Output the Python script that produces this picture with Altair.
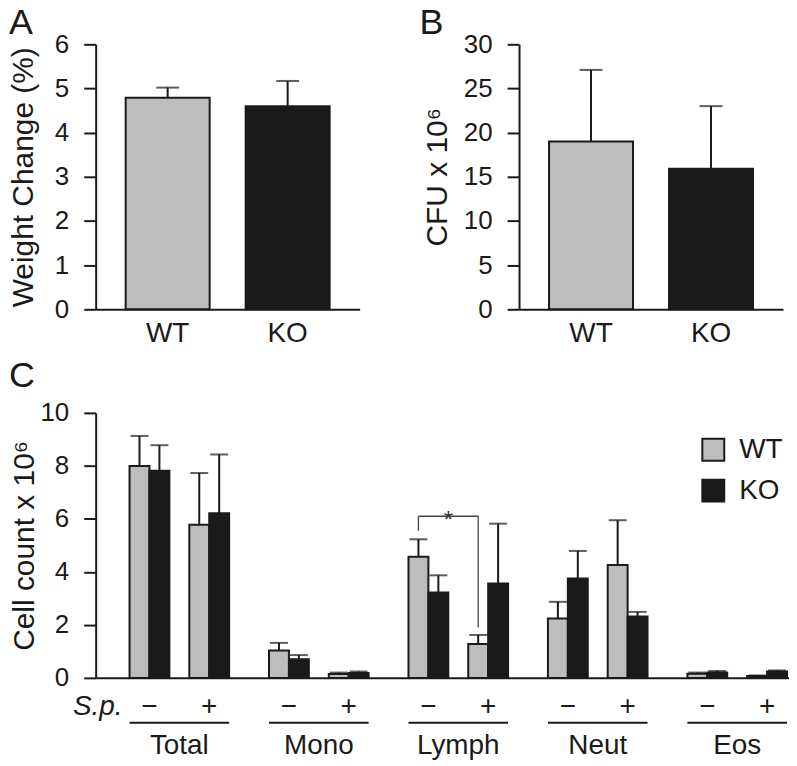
import altair as alt
import pandas as pd

INK = "#1a1a1a"
FONT = "Liberation Sans"

# ---- data ----
genotypes = ["WT", "KO"]
genotype_colors = ["#bdbdbd", "#1a1a1a"]

weight_mean = [4.79, 4.60]
weight_err = [0.23, 0.57]

cfu_mean = [19.0, 15.9]
cfu_err = [8.1, 7.1]

cell_groups = ["Total", "Mono", "Lymph", "Neut", "Eos"]
sp_levels = ["\u2212", "+"]
# order: Total-, Total+, Mono-, Mono+, Lymph-, Lymph+, Neut-, Neut+, Eos-, Eos+
wt_mean = [8.00, 5.78, 1.03, 0.15, 4.57, 1.28, 2.24, 4.26, 0.16, 0.07]
wt_err = [1.13, 1.95, 0.29, 0.05, 0.66, 0.34, 0.63, 1.69, 0.04, 0.02]
ko_mean = [7.82, 6.21, 0.70, 0.18, 3.22, 3.56, 3.75, 2.32, 0.20, 0.24]
ko_err = [0.96, 2.22, 0.16, 0.06, 0.65, 2.26, 1.04, 0.17, 0.06, 0.04]

# significance bracket (Lymph, WT - vs WT +): top, left foot, right foot
sig_top = 6.1
sig_left_foot = 5.55
sig_right_foot = 1.9
sig_text = "*"

PANEL_W = 265
PANEL_H = 266
C_W = 696


def axis_y(title, values, title_pad):
    return alt.Axis(
        title=title, values=values, grid=False, tickSize=12, tickWidth=2,
        tickColor=INK, domainWidth=2, domainColor=INK, labelFontSize=26,
        labelPadding=15, labelColor=INK, titleFontSize=30,
        titleFontWeight="normal", titleColor=INK, titlePadding=title_pad,
        labelFont=FONT, titleFont=FONT,
    )


def letter(text, dx, dy):
    return alt.Chart(pd.DataFrame({"t": [text]})).mark_text(
        fontSize=36, font=FONT, align="left", baseline="alphabetic", color=INK
    ).encode(text="t:N", x=alt.value(dx), y=alt.value(dy))


def simple_panel(means, errs, ytitle, ymax, ystep, title_pad, letter_text, letter_dx):
    df = pd.DataFrame({
        "g": genotypes,
        "m": means,
        "top": [m + e for m, e in zip(means, errs)],
    })
    base = alt.Chart(df)
    xenc = alt.X(
        "g:N", sort=genotypes,
        scale=alt.Scale(paddingInner=0.3, paddingOuter=0.25),
        axis=alt.Axis(title=None, labelAngle=0, ticks=False, tickSize=0,
                      labelFontSize=28, labelPadding=10, domainWidth=2,
                      domainColor=INK, labelColor=INK, labelFont=FONT),
    )
    yscale = alt.Scale(domain=[0, ymax], nice=False, zero=True)
    bars = base.mark_bar(stroke=INK, strokeWidth=2).encode(
        x=xenc,
        y=alt.Y("m:Q", scale=yscale,
                axis=axis_y(ytitle, list(range(0, ymax + 1, ystep)), title_pad)),
        fill=alt.Fill("g:N", scale=alt.Scale(domain=genotypes, range=genotype_colors),
                      legend=None),
    )
    err = base.mark_rule(strokeWidth=2, color=INK).encode(
        x=alt.X("g:N", sort=genotypes), y="m:Q", y2="top:Q")
    cap = base.mark_tick(orient="horizontal", size=23, thickness=2, color=INK).encode(
        x=alt.X("g:N", sort=genotypes), y="top:Q")
    return alt.layer(bars, err, cap, letter(letter_text, letter_dx, -10)).properties(
        width=PANEL_W, height=PANEL_H)


panel_a = simple_panel(weight_mean, weight_err, "Weight Change (%)", 6, 1, 16, "A", -87)
panel_b = simple_panel(cfu_mean, cfu_err, "CFU x 10\u2076", 30, 5, 11, "B", -100)

# ---- panel C ----
rows = []
for gi, g in enumerate(cell_groups):
    for si, s in enumerate(sp_levels):
        k = gi * 2 + si
        start = gi * 7 + si * 3
        for j, (geno, mean, err) in enumerate(
                [("WT", wt_mean[k], wt_err[k]), ("KO", ko_mean[k], ko_err[k])]):
            rows.append({
                "geno": geno, "group": g, "sp": s,
                "x0": start + j, "x1": start + j + 1, "xc": start + j + 0.5,
                "m": mean, "top": mean + err,
            })
cdf = pd.DataFrame(rows)

xs = alt.Scale(domain=[-1.7, 33.1], nice=False, zero=False)
xaxis = alt.Axis(title=None, labels=False, ticks=False, grid=False,
                 domainWidth=2, domainColor=INK)
ys = alt.Scale(domain=[0, 10], nice=False)

cbase = alt.Chart(cdf)
cbars = cbase.mark_rect(stroke=INK, strokeWidth=2).encode(
    x=alt.X("x0:Q", scale=xs, axis=xaxis),
    x2="x1:Q",
    y=alt.Y("m:Q", scale=ys, axis=axis_y("Cell count x 10\u2076", [0, 2, 4, 6, 8, 10], 0)),
    y2=alt.datum(0),
    fill=alt.Fill("geno:N", scale=alt.Scale(domain=genotypes, range=genotype_colors),
                  legend=alt.Legend(title=None, orient="none", legendX=606, legendY=23,
                                    symbolType="square", symbolSize=484,
                                    symbolStrokeColor=INK, symbolStrokeWidth=2,
                                    labelFontSize=28, labelOffset=12, rowPadding=11,
                                    labelFont=FONT, labelColor=INK)),
)
cerr = cbase.mark_rule(strokeWidth=2, color=INK).encode(
    x=alt.X("xc:Q", scale=xs), y=alt.Y("m:Q", scale=ys), y2="top:Q")
ccap = cbase.mark_tick(orient="horizontal", size=18, thickness=2, color=INK).encode(
    x=alt.X("xc:Q", scale=xs), y=alt.Y("top:Q", scale=ys))

# significance bracket
lymph_i = cell_groups.index("Lymph")
left_x = lymph_i * 7 + 0.5
right_x = lymph_i * 7 + 3 + 0.5
bdf = pd.DataFrame({
    "x": [left_x, left_x, right_x],
    "x2": [right_x, left_x, right_x],
    "y": [sig_top, sig_left_foot, sig_right_foot],
    "y2": [sig_top, sig_top, sig_top],
})
bracket = alt.Chart(bdf).mark_rule(strokeWidth=1.3, color="#444444").encode(
    x=alt.X("x:Q", scale=xs), x2="x2:Q", y=alt.Y("y:Q", scale=ys), y2="y2:Q")
star = alt.Chart(pd.DataFrame({"x": [(left_x + right_x) / 2], "y": [sig_top], "t": [sig_text]})).mark_text(
    fontSize=24, font=FONT, baseline="alphabetic", dy=12, color="#333333").encode(
    x=alt.X("x:Q", scale=xs), y=alt.Y("y:Q", scale=ys), text="t:N")

# category annotations below the axis
sub_df = pd.DataFrame([
    {"x": gi * 7 + si * 3 + 1, "t": s}
    for gi in range(len(cell_groups)) for si, s in enumerate(sp_levels)
])
sub_text = alt.Chart(sub_df).mark_text(fontSize=28, font=FONT, baseline="middle", color=INK).encode(
    x=alt.X("x:Q", scale=xs), y=alt.value(PANEL_H + 29), text="t:N")
sp_label = alt.Chart(pd.DataFrame({"x": [-0.35], "t": ["S.p."]})).mark_text(
    fontSize=28, font=FONT, fontStyle="italic", align="right", baseline="middle", color=INK).encode(
    x=alt.X("x:Q", scale=xs), y=alt.value(PANEL_H + 29), text="t:N")
grp_df = pd.DataFrame({
    "x": [gi * 7 for gi in range(len(cell_groups))],
    "x2": [gi * 7 + 5 for gi in range(len(cell_groups))],
    "xc": [gi * 7 + 2.5 for gi in range(len(cell_groups))],
    "t": cell_groups,
})
grp_line = alt.Chart(grp_df).mark_rule(strokeWidth=2, color=INK).encode(
    x=alt.X("x:Q", scale=xs), x2="x2:Q", y=alt.value(PANEL_H + 45))
grp_text = alt.Chart(grp_df).mark_text(fontSize=28, font=FONT, baseline="middle", color=INK).encode(
    x=alt.X("xc:Q", scale=xs), y=alt.value(PANEL_H + 68), text="t:N")

panel_c = alt.layer(
    cbars, cerr, ccap, bracket, star, sub_text, sp_label, grp_line, grp_text,
    letter("C", -87, -26),
).properties(width=C_W, height=PANEL_H)

top_row = alt.hconcat(panel_a, panel_b, spacing=160, bounds="flush")
chart = alt.vconcat(top_row, panel_c, spacing=11, bounds="full").resolve_scale(
    fill="independent").resolve_legend(fill="independent").properties(
    padding={"left": 0, "top": -4, "right": 0, "bottom": 0}
).configure(font=FONT).configure_view(stroke=None)

chart.save("out.html", embed_options={"renderer": "svg", "actions": False})
